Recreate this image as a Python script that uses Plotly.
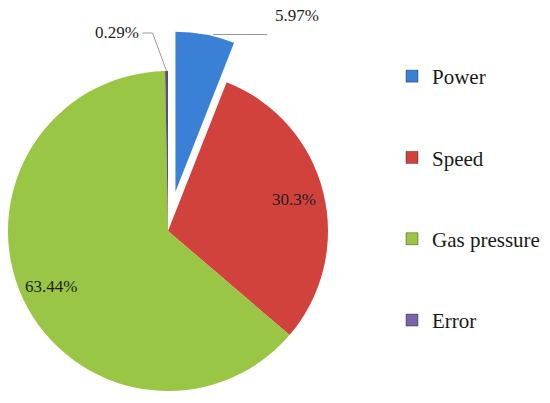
import math
import plotly.graph_objects as go

# ---- data ----
labels = ["Power", "Speed", "Gas pressure", "Error"]
values = [5.97, 30.3, 63.44, 0.29]
colors = ["#3A80D6", "#D2423D", "#9AC646", "#5E4C80"]
legend_colors = ["#3A80D6", "#D2423D", "#9AC646", "#7E62A8"]
exploded = ["Power"]

# ---- layout constants (pixels) ----
W, H = 550, 403
CX, CY, R = 168, 231, 160      # pie centre / radius
PULL = 40                      # explode distance in px
FONT = "Liberation Serif, Times New Roman, serif"

def px(x):
    return x / W

def py(y):
    return 1 - y / H

def domain(cx, cy):
    return dict(x=[px(cx - R), px(cx + R)], y=[py(cy + R), py(cy - R)])

total = sum(values)
mids = []
acc = 0.0
for v in values:
    mids.append((acc + v / 2) / total * 360)
    acc += v

def pol(cx, cy, rho, ang):
    a = math.radians(ang)
    return cx + rho * math.sin(a), cy - rho * math.cos(a)

fig = go.Figure()

# main pie (exploded slices transparent)
fig.add_trace(go.Pie(
    labels=labels, values=values, sort=False, direction="clockwise", rotation=0,
    marker=dict(colors=["rgba(0,0,0,0)" if l in exploded else c for l, c in zip(labels, colors)]),
    textinfo="none", hoverinfo="label+percent", showlegend=False, domain=domain(CX, CY),
))

# exploded slices: same pie shifted along slice mid-angle
for i, l in enumerate(labels):
    if l in exploded:
        ecx, ecy = pol(CX, CY, PULL, mids[i])
        fig.add_trace(go.Pie(
            labels=labels, values=values, sort=False, direction="clockwise", rotation=0,
            marker=dict(colors=[c if j == i else "rgba(0,0,0,0)" for j, c in enumerate(colors)]),
            textinfo="none", hoverinfo="label+percent", showlegend=False,
            domain=domain(ecx, ecy),
        ))

# legend entries
for l, c in zip(labels, legend_colors):
    fig.add_trace(go.Scatter(
        x=[None], y=[None], mode="markers", name=l, legendgroup=l,
        marker=dict(symbol="square", size=12, color=c, line=dict(width=1, color="rgba(0,0,0,0.35)")),
    ))

annotations, shapes = [], []
txtfont = dict(family=FONT, size=17, color="#1e1e1e")

def pct(v):
    return f"{v:g}%"

for i, (l, v) in enumerate(zip(labels, values)):
    if l in ("Speed", "Gas pressure"):
        x, y = pol(CX, CY, 0.81 * R, mids[i])
        annotations.append(dict(x=px(x), y=py(y), xref="paper", yref="paper", text=pct(v),
                                showarrow=False, xanchor="center", yanchor="middle", font=txtfont))
    elif l == "Power":
        ecx, ecy = pol(CX, CY, PULL, mids[i])
        ax_, ay_ = pol(ecx, ecy, R, mids[i])
        ax_ += 8
        ex = ax_ + 54
        shapes.append(dict(type="path", xref="paper", yref="paper",
                           path=f"M {px(ax_)} {py(ay_)} L {px(ex)} {py(ay_)}",
                           line=dict(color="#9a9a9a", width=1)))
        annotations.append(dict(x=px(ex + 6), y=py(ay_ - 19), xref="paper", yref="paper",
                                text=pct(v), showarrow=False, xanchor="left", yanchor="middle",
                                font=txtfont))
    elif l == "Error":
        ax_, ay_ = pol(CX, CY, R, mids[i])
        bx, by = ax_ - 14, ay_ - 38
        cx2 = bx - 10
        shapes.append(dict(type="path", xref="paper", yref="paper",
                           path=f"M {px(ax_)} {py(ay_)} L {px(bx)} {py(by)} L {px(cx2)} {py(by)}",
                           line=dict(color="#9a9a9a", width=1)))
        annotations.append(dict(x=px(cx2 - 2), y=py(by - 1), xref="paper", yref="paper",
                                text=pct(v), showarrow=False, xanchor="right", yanchor="middle",
                                font=txtfont))

fig.update_layout(
    width=W, height=H,
    margin=dict(l=0, r=0, t=0, b=0, pad=0, autoexpand=False),
    paper_bgcolor="white", plot_bgcolor="white",
    xaxis=dict(visible=False), yaxis=dict(visible=False),
    showlegend=True,
    legend=dict(x=px(392), y=py(56), xanchor="left", yanchor="top",
                font=dict(family=FONT, size=21, color="#1a1a1a"),
                tracegroupgap=51, bgcolor="rgba(0,0,0,0)"),
    annotations=annotations, shapes=shapes,
)

fig.write_html("out.html", config={"displayModeBar": False},
               post_script="document.body.style.margin='0px';document.body.style.overflow='hidden';")
